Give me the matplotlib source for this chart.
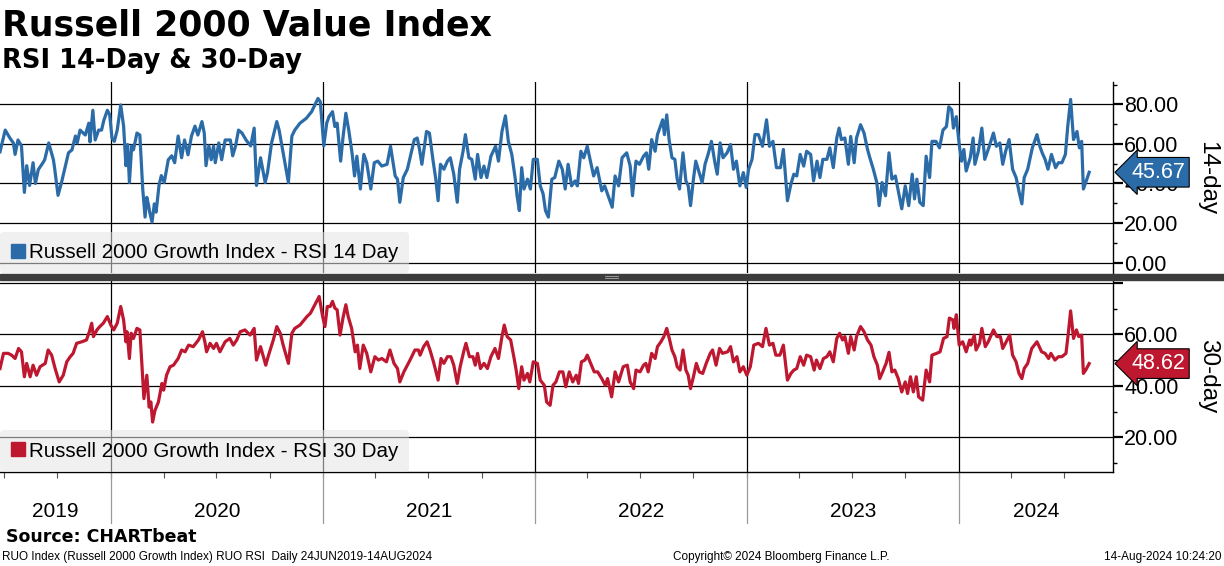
import pandas as pd
import matplotlib
matplotlib.use("Agg")
import matplotlib.pyplot as plt
import matplotlib.transforms as mtransforms
from matplotlib.patches import Rectangle
from matplotlib.lines import Line2D

# RSI readings, days counted from 24 Jun 2019
start = pd.Timestamp("2019-06-24")

days_14 = [0, 9, 17, 23, 26, 31, 37, 42, 46, 51, 57, 61, 66, 74, 77, 84, 92, 94, 100, 106,
           110, 118, 124, 130, 133, 138, 147, 153, 155, 160, 164, 170, 175, 179, 185, 189, 193, 197, 202, 208,
           213, 217, 220, 223, 227, 230, 236, 241, 246, 250, 253, 256, 258, 262, 266, 269, 274, 278, 283, 290,
           296, 301, 307, 313, 318, 324, 330, 336, 341, 348, 352, 355, 360, 364, 368, 371, 377, 382, 388, 397,
           401, 406, 411, 417, 424, 432, 438, 442, 449, 457, 461, 468, 477, 481, 488, 497, 503, 508, 517, 528,
           537, 548, 552, 558, 563, 567, 573, 577, 581, 587, 591, 596, 601, 607, 611, 615, 621, 627, 632, 639,
           645, 651, 658, 667, 673, 681, 685, 689, 695, 702, 708, 714, 719, 723, 727, 735, 740, 746, 751, 755,
           759, 765, 771, 776, 782, 788, 792, 798, 802, 808, 813, 819, 823, 829, 834, 839, 846, 854, 859, 865,
           871, 876, 882, 888, 891, 895, 899, 903, 909, 914, 919, 926, 931, 936, 940, 945, 951, 956, 963, 969,
           974, 979, 985, 991, 995, 1001, 1006, 1012, 1018, 1023, 1029, 1037, 1042, 1048, 1055, 1060, 1066, 1072, 1080, 1086,
           1090, 1096, 1102, 1109, 1114, 1118, 1123, 1129, 1133, 1138, 1142, 1145, 1149, 1153, 1158, 1163, 1167, 1171, 1177, 1182,
           1186, 1190, 1195, 1199, 1205, 1210, 1215, 1221, 1226, 1232, 1236, 1241, 1246, 1253, 1259, 1264, 1269, 1275, 1281, 1286,
           1290, 1296, 1301, 1307, 1314, 1321, 1326, 1332, 1338, 1345, 1350, 1357, 1363, 1368, 1373, 1379, 1385, 1390, 1397, 1402,
           1408, 1413, 1418, 1425, 1430, 1436, 1442, 1446, 1450, 1456, 1462, 1466, 1472, 1476, 1483, 1489, 1495, 1499, 1505, 1511,
           1515, 1520, 1526, 1532, 1537, 1543, 1549, 1554, 1560, 1566, 1572, 1576, 1580, 1585, 1591, 1596, 1602, 1606, 1613, 1619,
           1625, 1631, 1635, 1640, 1643, 1648, 1653, 1657, 1661, 1665, 1672, 1677, 1680, 1686, 1692, 1697, 1703, 1712, 1717, 1723,
           1728, 1733, 1739, 1745, 1751, 1757, 1761, 1765, 1771, 1779, 1787, 1792, 1796, 1801, 1806, 1812, 1819, 1824, 1830, 1836,
           1840, 1845, 1850, 1856, 1860, 1864, 1867, 1871, 1877]
rsi_14 = [56, 67, 63, 60.5, 54.7, 62, 59, 35.5, 49, 39, 50.5, 40, 47, 50.5, 52, 60.5, 52, 48, 34, 40.5,
          45.5, 55.5, 57, 64, 60.5, 67, 64.5, 70.5, 61, 77, 62, 67, 67, 72, 77, 74.7, 63, 61.3, 67, 79.7,
          69, 49, 59.7, 40.5, 59, 57, 65.5, 64.5, 37, 23, 33, 29, 25.5, 20.5, 29.7, 25.5, 39, 44, 40.5, 52,
          54, 50.5, 64, 53, 62, 54.5, 64, 69, 64.5, 71.3, 65.5, 49, 59, 52, 59, 50.5, 60.5, 52, 62, 62,
          54, 59, 67, 65.5, 62, 59, 68, 39, 53, 40.5, 45.5, 60.5, 71.3, 67, 55.5, 40.5, 64, 67, 70.5, 73,
          76.3, 83, 81.3, 59, 70.5, 73.8, 76.3, 68.8, 70.5, 51.3, 63, 75.5, 67, 54.7, 43.8, 53.8, 37.2, 54.7, 50.5, 37.2,
          50.5, 51.3, 48.8, 49.7, 58.8, 43.8, 42.2, 30.5, 43, 47.2, 54.7, 62.2, 63, 57.2, 49.7, 66.3, 65.5, 52.2, 42.2, 31.3,
          49.7, 47.2, 51.3, 53, 44.7, 30.5, 47.2, 56.3, 64.7, 53, 52.2, 42.2, 54.7, 43, 48.8, 43, 53.8, 58.8, 51.3, 66.3,
          74.2, 61.3, 54.7, 42.2, 33.8, 26.3, 48, 37.2, 42.2, 37.2, 52.2, 52.2, 38.8, 34.7, 26.3, 23, 42.2, 43, 51.3, 47.2,
          37.2, 49.7, 38.8, 41.3, 38.8, 56.3, 53, 58.8, 50.5, 43.8, 48, 36.3, 38.8, 33.8, 28, 43.8, 38.8, 53, 55.5, 48.8,
          33.8, 51.3, 49.7, 53.8, 55.5, 47.2, 62.2, 56.3, 64.7, 68.8, 72.2, 64.7, 74.7, 62.2, 53, 52.2, 42.2, 37.2, 55.5, 41.3,
          38.8, 28.8, 42.2, 51.3, 45.5, 40.5, 49.7, 55.5, 61.3, 50.5, 44.7, 60.5, 53, 55.5, 59.7, 47.2, 51.3, 38.8, 45.5, 38,
          47.2, 52.2, 64.7, 64.7, 58.8, 72.2, 58.8, 61.3, 48, 48, 57.2, 31.3, 39.7, 44.7, 43.8, 54.7, 48.8, 56.3, 54.7, 41.3,
          51.3, 43, 52.2, 52.2, 58, 48, 63, 68, 62.2, 63, 49.7, 63.8, 50.5, 63, 69.7, 65.5, 57.2, 53, 47.2, 40.5,
          28.8, 40.5, 33.8, 55.5, 42.2, 43.8, 34.7, 27.2, 38.8, 28.8, 44.7, 32.2, 42.2, 30.5, 28.8, 53.8, 43, 61.3, 61.3, 58,
          67, 68.8, 78.8, 77.2, 68, 73.8, 59.7, 51.3, 57.2, 46.3, 53, 63, 49.7, 56.3, 68, 52.2, 57.2, 65.5, 58.8, 60.5,
          49.7, 56.3, 62.2, 47.2, 43, 34.7, 29.7, 43, 47.2, 58, 64.7, 58.8, 55.5, 52.2, 47.2, 54.7, 48, 50.5, 50.5, 54.7,
          68.8, 82.5, 62.2, 66.3, 58, 61.3, 37.2, 40.5, 45.67]

days_30 = [0, 6, 14, 20, 26, 32, 37, 42, 46, 52, 57, 63, 69, 78, 83, 89, 95, 102, 109, 115,
           121, 126, 132, 141, 149, 154, 158, 161, 167, 172, 178, 185, 191, 196, 202, 208, 213, 217, 219, 223,
           226, 230, 236, 241, 248, 253, 257, 260, 263, 267, 273, 279, 282, 287, 293, 299, 307, 313, 319, 325,
           333, 342, 349, 353, 356, 362, 368, 373, 379, 388, 396, 402, 408, 414, 422, 431, 438, 442, 449, 458,
           462, 471, 477, 483, 488, 497, 503, 508, 517, 529, 535, 550, 556, 560, 564, 569, 573, 577, 581, 586,
           591, 596, 600, 606, 612, 616, 620, 626, 632, 639, 646, 652, 658, 666, 672, 679, 685, 689, 696, 702,
           708, 715, 721, 724, 730, 736, 741, 747, 755, 760, 765, 771, 777, 782, 788, 793, 799, 803, 809, 815,
           819, 823, 828, 834, 840, 846, 853, 859, 865, 869, 874, 880, 886, 890, 894, 899, 903, 909, 913, 919,
           926, 931, 938, 942, 948, 953, 958, 964, 970, 975, 981, 987, 993, 997, 1002, 1008, 1012, 1018, 1024, 1030,
           1037, 1043, 1047, 1054, 1060, 1066, 1074, 1081, 1086, 1092, 1096, 1103, 1109, 1113, 1117, 1123, 1129, 1133, 1139, 1144,
           1149, 1154, 1158, 1163, 1167, 1172, 1177, 1182, 1186, 1190, 1195, 1200, 1205, 1211, 1217, 1224, 1228, 1234, 1240, 1245,
           1254, 1259, 1264, 1270, 1275, 1281, 1287, 1293, 1299, 1307, 1314, 1320, 1326, 1332, 1337, 1344, 1350, 1357, 1363, 1368,
           1373, 1379, 1385, 1390, 1397, 1403, 1407, 1413, 1419, 1425, 1430, 1436, 1442, 1447, 1452, 1456, 1462, 1466, 1472, 1476,
           1483, 1489, 1495, 1501, 1506, 1512, 1516, 1521, 1527, 1532, 1537, 1542, 1548, 1554, 1560, 1564, 1569, 1574, 1579, 1583,
           1590, 1596, 1602, 1606, 1614, 1620, 1626, 1632, 1636, 1642, 1644, 1648, 1653, 1659, 1665, 1671, 1673, 1679, 1682, 1688,
           1692, 1698, 1703, 1712, 1718, 1724, 1728, 1734, 1740, 1745, 1751, 1756, 1761, 1765, 1771, 1778, 1787, 1791, 1795, 1801,
           1807, 1811, 1818, 1824, 1830, 1837, 1841, 1845, 1850, 1855, 1859, 1864, 1867, 1871, 1877]
rsi_30 = [46.7, 52.6, 52.6, 51.9, 50.6, 54.5, 53.2, 43.5, 48.7, 43.5, 48, 44.1, 47.4, 48.7, 53.9, 51.9, 46.7, 41.5, 44.1, 49.3,
          51.3, 52.6, 56.5, 57.1, 57.8, 61, 64.3, 59.1, 61.7, 63, 64.3, 66.9, 63.6, 61.7, 64.3, 70.8, 65.6, 57.1, 61, 50.6,
          60.4, 58.4, 62.3, 61.7, 35, 44.1, 31.7, 33.7, 25.9, 30.4, 33.7, 40.9, 38.3, 44.1, 47.4, 48, 50.6, 53.9, 53.2, 55.8,
          55.2, 57.8, 61, 57.1, 53.2, 56.5, 54.5, 56.5, 53.2, 57.1, 58.4, 55.8, 57.8, 61, 61.7, 59.7, 62.3, 50, 55.2, 48,
          51.3, 57.8, 63, 60.4, 55.8, 48.7, 60.4, 62.3, 63.6, 66.9, 68.2, 74.7, 66.9, 63, 70.8, 70.8, 72.8, 70.2, 69.5, 59.7,
          66.3, 71.5, 66.9, 62.3, 53.2, 55.8, 46.7, 55.8, 52.6, 45.4, 51.3, 50, 50.6, 49.3, 53.9, 48.7, 46.7, 41.5, 45.4, 48,
          50.6, 53.9, 53.9, 51.9, 55.2, 57.1, 53.9, 49.3, 42.2, 50.6, 48.7, 51.3, 51.3, 48, 40.9, 47.4, 53.2, 56.5, 51.3, 51.3,
          48, 52.6, 46.7, 48.7, 46.7, 51.3, 54.5, 50.6, 59.1, 63.6, 59.1, 57.8, 50.6, 45.4, 38.9, 47.4, 42.2, 44.8, 41.5, 49.3,
          48.7, 42.2, 40.2, 33.7, 32.4, 40.2, 41.5, 45.4, 45.4, 39.6, 45.4, 41.5, 44.1, 40.9, 49.3, 50, 51.9, 48.7, 45.4, 45.4,
          42.8, 40.2, 42.8, 35.7, 45.4, 41.5, 47.4, 48, 41.5, 38.9, 46.1, 45.4, 48, 48.7, 45.4, 52.6, 50.6, 55.2, 57.1, 59.1,
          62.3, 57.8, 53.9, 51.3, 47.4, 46.1, 53.9, 46.1, 44.1, 38.9, 43.5, 48.7, 45.4, 44.8, 48.7, 52.6, 53.9, 48, 54.5, 52.6,
          53.2, 55.2, 49.3, 51.3, 45.4, 47.4, 44.1, 47.4, 55.8, 56.5, 55.2, 62.3, 55.8, 56.5, 51.9, 51.9, 55.8, 42.2, 44.8, 46.1,
          46.7, 51.3, 48, 51.9, 51.3, 46.1, 50, 46.7, 50.6, 51.3, 53.2, 49.3, 58.4, 60.4, 57.8, 59.1, 52.6, 59.1, 53.9, 59.1,
          63, 61, 57.8, 55.8, 51.3, 48, 42.8, 45.4, 48.7, 53, 45.4, 46.1, 42.8, 37.6, 41.5, 37, 43.5, 37.6, 43.5, 35.7,
          34.4, 46.1, 41.5, 51.9, 52.6, 53.2, 58.4, 59.1, 66.3, 65.6, 62.3, 67.6, 55.8, 57.1, 53.2, 57.8, 55.8, 59.7, 53.9, 56.5,
          62.3, 55.2, 57.1, 61.7, 59.1, 59.1, 54.5, 57.1, 59.7, 51.9, 49.3, 44.8, 42.8, 46.7, 48.7, 54.5, 57.1, 55.2, 53.2, 52.6,
          50.6, 52.6, 50, 51.3, 51.3, 52.6, 60.4, 69.1, 58.4, 61.7, 59.1, 59.7, 44.8, 46.1, 48.62]

years = [2019, 2020, 2021, 2022, 2023, 2024]
legend_14 = "Russell 2000 Growth Index - RSI 14 Day"
legend_30 = "Russell 2000 Growth Index - RSI 30 Day"

blue = "#2b6ca8"
red = "#be1730"
sans = "Liberation Sans"

dates_14 = start + pd.to_timedelta(days_14, unit="D")
dates_30 = start + pd.to_timedelta(days_30, unit="D")
x_end = start + pd.Timedelta(days=1918)

fig = plt.figure(figsize=(12.24, 5.66), dpi=100)
ax1 = fig.add_axes([0, 0.5168, 0.9093, 0.3383])
ax2 = fig.add_axes([0, 0.1661, 0.9093, 0.3401])


def style_panel(ax, ylim, major, minor, labels):
    ax.set_xlim(start, x_end)
    ax.set_ylim(*ylim)
    for s in ["left", "top", "bottom"]:
        ax.spines[s].set_visible(False)
    ax.spines["right"].set_linewidth(1.0)
    ax.yaxis.tick_right()
    ax.set_yticks(major, labels)
    ax.set_yticks(minor, minor=True)
    ax.tick_params(axis="y", which="major", direction="out", length=7, width=1.6,
                   labelsize=15.5, pad=1)
    ax.tick_params(axis="y", which="minor", direction="out", length=3, width=1.0)
    for lab in ax.get_yticklabels():
        lab.set_fontfamily(sans)
    ax.grid(axis="y", which="major", color="black", lw=0.9)
    for y in years[1:]:
        ax.axvline(pd.Timestamp(f"{y}-01-01"), color="black", lw=0.9, zorder=1)


style_panel(ax1, (-5.5, 91.3), [0, 20, 40, 60, 80], [10, 30, 50, 70, 90],
            ["0.00", "20.00", "40.00", "60.00", "80.00"])
style_panel(ax2, (6.5, 81.3), [20, 40, 60, 80], [10, 30, 50, 70],
            ["20.00", "40.00", "60.00", ""])

ax1.plot(dates_14, rsi_14, color=blue, lw=2.3, solid_joinstyle="round", zorder=3)
ax2.plot(dates_30, rsi_30, color=red, lw=2.3, solid_joinstyle="round", zorder=3)

# x axis: quarterly ticks only, year labels placed by hand
ax1.set_xticks([])
quarters = pd.date_range("2019-07-01", "2024-07-01", freq="QS")
ax2.set_xticks(quarters, [""] * len(quarters))
ax2.tick_params(axis="x", direction="out", length=4, width=0.8, color="#555555")
ax2.spines["bottom"].set_visible(True)
ax2.spines["bottom"].set_linewidth(1.0)

trans = mtransforms.blended_transform_factory(ax2.transData, ax2.transAxes)
bounds = [start] + [pd.Timestamp(f"{y}-01-01") for y in years[1:]] + [x_end]
for i, y in enumerate(years):
    mid = bounds[i] + (bounds[i + 1] - bounds[i]) / 2
    ax2.text(mid, -0.205, str(y), transform=trans, ha="center", va="center",
             fontsize=15, family=sans)
for y in years[1:]:
    d = pd.Timestamp(f"{y}-01-01")
    ax2.plot([d, d], [0, -0.265], transform=trans, color="#9a9a9a", lw=0.9, clip_on=False)

# legends
for ax, color, text in [(ax1, blue, legend_14), (ax2, red, legend_30)]:
    h = [Line2D([], [], ls="none", marker="s", markersize=9.5, color=color)]
    leg = ax.legend(h, [text], loc="lower left",
                    bbox_to_anchor=(0, 0), borderaxespad=0, borderpad=0.55,
                    handlelength=0.65, handletextpad=0.2, fancybox=True,
                    prop={"family": sans, "size": 14.8})
    frame = leg.get_frame()
    frame.set_facecolor("#e4e4e4")
    frame.set_alpha(0.55)
    frame.set_edgecolor("none")

# last value tags
for ax, val, color in [(ax1, rsi_14[-1], blue), (ax2, rsi_30[-1], red)]:
    ax.annotate(f"{val:.2f}", xy=(1, val), xycoords=("axes fraction", "data"),
                xytext=(13, 0), textcoords="offset points", ha="left", va="center",
                color="white", fontsize=15.5, family=sans, annotation_clip=False,
                bbox=dict(boxstyle="larrow,pad=0.2", fc=color, ec="black", lw=0.8))

ax1.text(1.085, 0.5, "14-day", transform=ax1.transAxes, rotation=270, ha="center",
         va="center", fontsize=17.5, family=sans)
ax2.text(1.085, 0.5, "30-day", transform=ax2.transAxes, rotation=270, ha="center",
         va="center", fontsize=17.5, family=sans)

# separator bar between panels
fig.patches.append(Rectangle((0, 1 - 279.5 / 566), 1, 6 / 566, transform=fig.transFigure,
                             color="#3c3c3c", zorder=10))
for yy in [276.2, 278.0]:
    fig.add_artist(Line2D([605 / 1224, 618 / 1224], [1 - yy / 566] * 2, color="#9a9a9a",
                          lw=0.7, zorder=11))

# titles and footer
fig.text(2 / 1224, 1 - 25 / 566, "Russell 2000 Value Index", fontsize=25, fontweight="bold",
         va="center", ha="left")
fig.text(2 / 1224, 1 - 61 / 566, "RSI 14-Day & 30-Day", fontsize=18.5, fontweight="bold",
         va="center", ha="left")
fig.text(6 / 1224, 1 - 537 / 566, "Source: CHARTbeat", fontsize=12.5, fontweight="bold",
         va="center", ha="left")
fig.text(2 / 1224, 1 - 557 / 566, "RUO Index (Russell 2000 Growth Index) RUO RSI  Daily 24JUN2019-14AUG2024",
         fontsize=8.5, family=sans, va="center", ha="left")
fig.text(781 / 1224, 1 - 557 / 566, "Copyright\u00a9 2024 Bloomberg Finance L.P.",
         fontsize=8.5, family=sans, va="center", ha="center")
fig.text(1222 / 1224, 1 - 557 / 566, "14-Aug-2024 10:24:20",
         fontsize=8.5, family=sans, va="center", ha="right")

fig.savefig("out.png", dpi=100)
